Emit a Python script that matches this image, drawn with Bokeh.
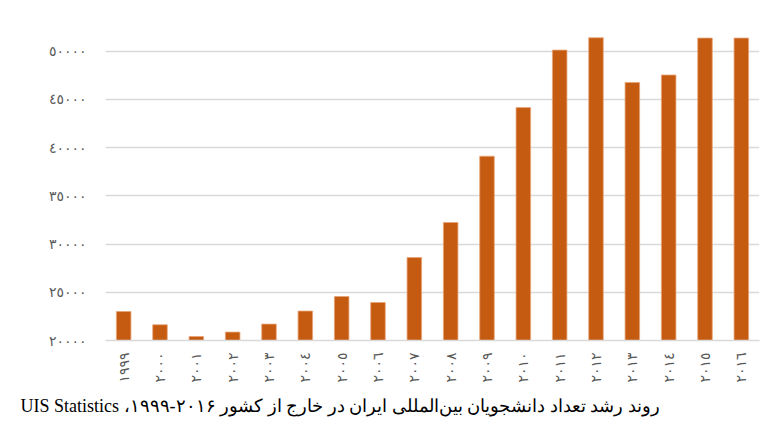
import math
from bokeh.plotting import figure
from bokeh.models import FixedTicker, Title, Range1d, ColumnDataSource
from bokeh.embed import file_html
from bokeh.resources import INLINE

# Data
years = ["١٩٩٩", "٢٠٠٠", "٢٠٠١", "٢٠٠٢", "٢٠٠٣", "٢٠٠٤", "٢٠٠٥", "٢٠٠٦", "٢٠٠٧",
         "٢٠٠٨", "٢٠٠٩", "٢٠١٠", "٢٠١١", "٢٠١٢", "٢٠١٣", "٢٠١٤", "٢٠١٥", "٢٠١٦"]
students = [23000, 21630, 20410, 20870, 21700, 23050, 24560, 23940, 28600,
            32230, 39100, 44140, 50100, 51380, 46750, 47520, 51350, 51350]
y_ticks = [20000, 25000, 30000, 35000, 40000, 45000, 50000]
y_tick_labels = ["٢٠٠٠٠", "٢٥٠٠٠", "٣٠٠٠٠", "٣٥٠٠٠", "٤٠٠٠٠", "٤٥٠٠٠", "٥٠٠٠٠"]
caption = "روند رشد تعداد دانشجویان بین‌المللی ایران در خارج از کشور ۲۰۱۶-۱۹۹۹، UIS Statistics"

source = ColumnDataSource(data=dict(year=years, students=students))

p = figure(width=777, height=448, x_range=years, y_range=Range1d(20000, 54000),
           output_backend="svg", toolbar_location=None,
           min_border_left=105, min_border_right=18, min_border_top=12,
           min_border_bottom=108)

p.vbar(x="year", top="students", bottom=20000, width=0.4, source=source,
       fill_color="#c55a11", line_color="#e9a477", line_width=1, line_alpha=0.8)

p.outline_line_color = None
p.background_fill_color = "white"
p.border_fill_color = "white"

p.xgrid.grid_line_color = None
p.ygrid.grid_line_color = "#d9d9d9"
p.ygrid.grid_line_width = 1.3

p.yaxis.ticker = FixedTicker(ticks=y_ticks)
p.yaxis.major_label_overrides = {t: l for t, l in zip(y_ticks, y_tick_labels)}
p.yaxis.axis_line_color = None
p.yaxis.major_tick_line_color = None
p.yaxis.minor_tick_line_color = None
p.yaxis.major_label_standoff = 13
p.yaxis.major_label_text_font = "DejaVu Sans"
p.yaxis.major_label_text_font_size = "14px"
p.yaxis.major_label_text_color = "#595959"

p.xaxis.axis_line_color = "#d9d9d9"
p.xaxis.axis_line_width = 1.3
p.xaxis.major_tick_line_color = None
p.xaxis.minor_tick_line_color = None
p.xaxis.major_label_orientation = math.pi / 2
p.xaxis.major_label_standoff = 6
p.xaxis.major_label_text_font = "DejaVu Sans"
p.xaxis.major_label_text_font_size = "14px"
p.xaxis.major_label_text_color = "#595959"

t = Title(text="\u202b" + caption + "\u202c", align="left", offset=-85,
          text_font="Liberation Serif", text_font_size="18px",
          text_font_style="normal", text_color="#000000", standoff=16)
p.add_layout(t, "below")

open("out.html", "w").write(file_html(p, INLINE))
